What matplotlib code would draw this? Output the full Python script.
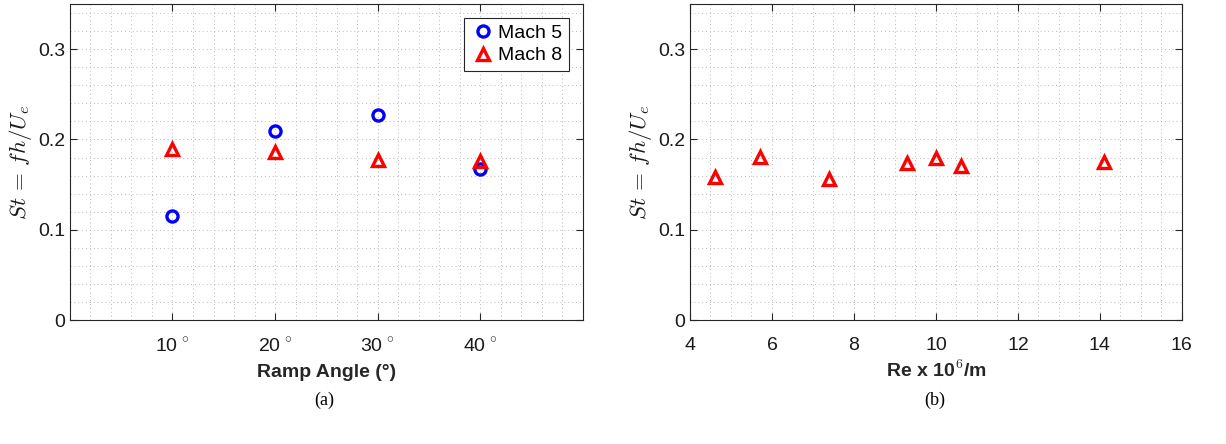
import numpy as np
import matplotlib
matplotlib.use("Agg")
from matplotlib import pyplot as plt
from matplotlib.ticker import MultipleLocator

plt.rcParams["font.family"] = ["Liberation Sans", "DejaVu Sans"]
plt.rcParams["mathtext.fontset"] = "cm"

# (a) Strouhal number vs ramp angle
ramp_angle = [10, 20, 30, 40]
st_mach5 = [0.115, 0.209, 0.227, 0.167]
st_mach8 = [0.190, 0.186, 0.177, 0.176]
angle_labels = ["10$^{\\,\\circ}$", "20$^{\\,\\circ}$", "30$^{\\,\\circ}$", "40$^{\\,\\circ}$"]

# (b) Strouhal number vs unit Reynolds number (Mach 8)
reynolds = [4.6, 5.7, 7.4, 9.3, 10.0, 10.6, 14.1]
st_re = [0.159, 0.181, 0.156, 0.174, 0.179, 0.171, 0.175]

AX_COLOR = "0.15"


def style_axes(ax):
    ax.set_ylim(0, 0.35)
    ax.yaxis.set_major_locator(MultipleLocator(0.1))
    ax.yaxis.set_minor_locator(MultipleLocator(0.02))
    ax.grid(True, which="both", linestyle=(0, (1, 3)), color="0.72", linewidth=0.7)
    ax.set_axisbelow(True)
    ax.tick_params(which="both", direction="in", top=True, right=True,
                   colors=AX_COLOR, labelcolor="0.1", labelsize=14)
    ax.tick_params(which="minor", length=0)
    ax.tick_params(which="major", length=5)
    ax.tick_params(axis="x", pad=12)
    for s in ax.spines.values():
        s.set_color(AX_COLOR)
        s.set_linewidth(0.8)
    ax.set_ylabel("$St\\,=\\,fh/U_e$", fontsize=16.5, color="0.1", labelpad=3)
    ax.yaxis.set_major_formatter(plt.FuncFormatter(lambda v, p: "0" if v == 0 else f"{v:.1f}"))


fig = plt.figure(figsize=(12.26, 4.44), dpi=100)
ax1 = fig.add_axes([0.057, 0.279, 0.4185, 0.712])
ax2 = fig.add_axes([0.5628, 0.279, 0.4012, 0.712])

# --- (a) ---
ax1.plot(ramp_angle, st_mach5, "o", ms=8, mfc="none", mec="blue", mew=2.4,
         linestyle="none", label="Mach 5")
ax1.plot(ramp_angle, st_mach8, "^", ms=9, mfc="none", mec="red", mew=2.4,
         linestyle="none", label="Mach 8")
ax1.set_xlim(0, 50)
ax1.set_xticks(ramp_angle)
ax1.set_xticklabels(angle_labels)
ax1.xaxis.set_minor_locator(MultipleLocator(2))
style_axes(ax1)
ax1.set_xlabel("Ramp Angle (°)", fontsize=14, fontweight="bold", color="0.15", labelpad=6)
leg = ax1.legend(loc="upper right", fontsize=14, frameon=True, fancybox=False,
                 edgecolor="0.15", handletextpad=0.2, borderpad=0.35,
                 handlelength=1.2, labelspacing=0.25, borderaxespad=0.7, framealpha=1)
leg.get_frame().set_linewidth(0.8)

# --- (b) ---
ax2.plot(reynolds, st_re, "^", ms=9, mfc="none", mec="red", mew=2.4, linestyle="none")
ax2.set_xlim(4, 16)
ax2.xaxis.set_major_locator(MultipleLocator(2))
ax2.xaxis.set_minor_locator(MultipleLocator(0.5))
style_axes(ax2)
ax2.set_xlabel("Re x 10$^{\\mathbf{6}}$/m", fontsize=14, fontweight="bold", color="0.15", labelpad=4)

# captions
fig.text(0.2645, 0.088, "(a)", fontsize=13, family="Liberation Serif", ha="center")
fig.text(0.7625, 0.088, "(b)", fontsize=13, family="Liberation Serif", ha="center")

fig.savefig("out.png", dpi=100)
